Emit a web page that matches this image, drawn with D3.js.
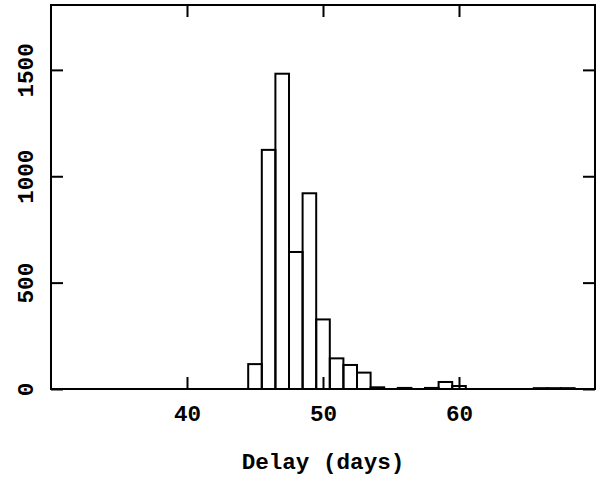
<!DOCTYPE html>
<html>
<head>
<meta charset="utf-8">
<script src="https://cdn.jsdelivr.net/npm/d3@7"></script>
<style>
  body { margin: 0; background: #fff; }
  text { font-family: "Liberation Mono", monospace; font-weight: bold; fill: #000; }
</style>
</head>
<body>
<div id="container"></div>
<script>
const WIDTH = 607;
const HEIGHT = 481;
const LEFT = 51, RIGHT = 595, TOP = 5, BOTTOM = 389;
const FONT = "Liberation Mono";

// histogram of delays, 1-day bins centred on integers
var binCentres = [45, 46, 47, 48, 49, 50, 51, 52, 53, 54, 55, 56, 57, 58, 59, 60, 61, 62, 63, 64, 65, 66, 67, 68];
var binCounts  = [117, 1124, 1482, 644, 920, 327, 144, 113, 77, 8, 0, 5, 0, 5, 33, 14, 0, 0, 0, 0, 0, 4, 4, 4];
var xTicks = [40, 50, 60];
var yTicks = [0, 500, 1000, 1500];
var xLabel = "Delay (days)";

var svg = d3.select("#container").append("svg")
    .attr("width", WIDTH)
    .attr("height", HEIGHT);

var x = d3.scaleLinear().domain([30, 70]).range([LEFT, RIGHT]);
var y = d3.scaleLinear().domain([0, 1805]).range([BOTTOM, TOP]);

var data = binCentres.map(function (c, i) { return {c: c, n: binCounts[i]}; })
    .filter(function (d) { return d.n > 0; });

svg.append("g").selectAll("rect").data(data).enter()
    .append("rect")
    .attr("x", function (d) { return x(d.c - 0.5); })
    .attr("width", function (d) { return x(d.c + 0.5) - x(d.c - 0.5); })
    .attr("y", function (d) { return y(d.n); })
    .attr("height", function (d) { return BOTTOM - y(d.n); })
    .attr("fill", "none")
    .attr("stroke", "#000")
    .attr("stroke-width", 2);

var styleAxis = function (g) {
    g.select(".domain").remove();
    g.selectAll(".tick line").attr("stroke", "#000").attr("stroke-width", 2);
};

svg.append("g")
    .attr("transform", "translate(0," + BOTTOM + ")")
    .call(d3.axisBottom(x).tickValues(xTicks).tickSize(-12).tickPadding(16).tickFormat(d3.format("d")))
    .call(styleAxis)
    .selectAll("text").attr("font-size", 22.6).attr("font-family", FONT);

svg.append("g")
    .attr("transform", "translate(0," + TOP + ")")
    .call(d3.axisTop(x).tickValues(xTicks).tickSize(-12).tickFormat(""))
    .call(styleAxis);

var yAxis = svg.append("g")
    .attr("transform", "translate(" + LEFT + ",0)")
    .call(d3.axisLeft(y).tickValues(yTicks).tickSize(-12).tickFormat(d3.format("d")))
    .call(styleAxis);

yAxis.selectAll("text")
    .attr("font-size", 22.6)
    .attr("font-family", FONT)
    .attr("text-anchor", "middle")
    .attr("transform", "rotate(-90)")
    .attr("x", 0)
    .attr("y", -18)
    .attr("dy", 0);

svg.append("g")
    .attr("transform", "translate(" + RIGHT + ",0)")
    .call(d3.axisRight(y).tickValues(yTicks).tickSize(-12).tickFormat(""))
    .call(styleAxis);

svg.append("rect")
    .attr("x", LEFT).attr("y", TOP)
    .attr("width", RIGHT - LEFT).attr("height", BOTTOM - TOP)
    .attr("fill", "none")
    .attr("stroke", "#000")
    .attr("stroke-width", 2);

svg.append("text")
    .attr("x", (LEFT + RIGHT) / 2)
    .attr("y", 469)
    .attr("text-anchor", "middle")
    .attr("font-size", 22.6)
    .text(xLabel);
</script>
</body>
</html>
